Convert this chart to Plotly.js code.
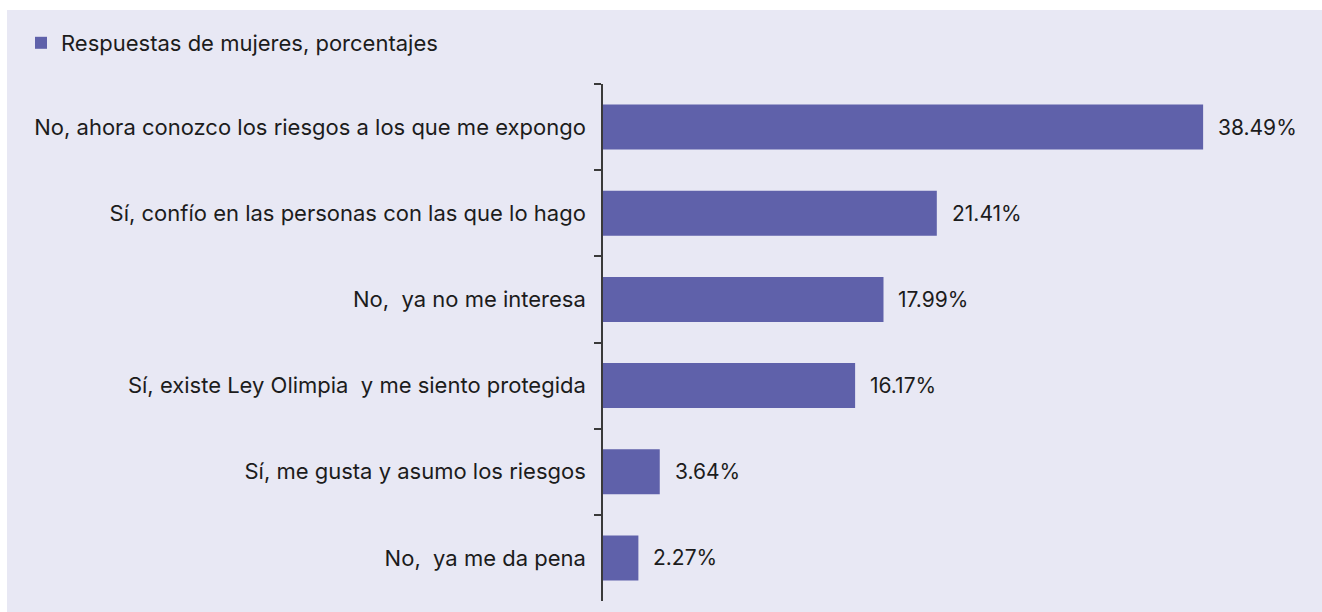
<!DOCTYPE html>
<html>
<head>
<meta charset="utf-8">
<script src="https://cdn.plot.ly/plotly-3.0.1.min.js"></script>
<style>
  html, body { margin: 0; padding: 0; background: #ffffff; }
  #chart { position: absolute; left: 7px; top: 10px; width: 1315px; height: 602px; }
</style>
</head>
<body>
<div id="chart"></div>
<script>
const categories = [
  "No, ahora conozco los riesgos a los que me expongo",
  "Sí, confío en las personas con las que lo hago",
  "No,  ya no me interesa",
  "Sí, existe Ley Olimpia  y me siento protegida",
  "Sí, me gusta y asumo los riesgos",
  "No,  ya me da pena"
];
const values = [38.49, 21.41, 17.99, 16.17, 3.64, 2.27];
const valueLabels = ["38.49%", "21.41%", "17.99%", "16.17%", "3.64%", "2.27%"];
const seriesName = "Respuestas de mujeres, porcentajes";

const BAR = "#5f61aa";
const BG = "#e8e8f4";
const TXT = "#1c1c1c";
const FONT = "Inter, Roboto, 'Noto Sans', sans-serif";
const FS = 22;
const FS_VAL = 21;

const trace = {
  type: "bar",
  orientation: "h",
  name: seriesName,
  x: values,
  y: categories,
  marker: { color: BAR },
  hoverinfo: "x+y",
  showlegend: true
};

const annotations = values.map((v, i) => ({
  x: v, y: categories[i], xref: "x", yref: "y",
  text: valueLabels[i], showarrow: false,
  xanchor: "left", yanchor: "middle", xshift: 13,
  font: { family: FONT, size: FS_VAL, color: TXT }
}));

const layout = {
  width: 1315, height: 602,
  paper_bgcolor: BG, plot_bgcolor: BG,
  margin: { l: 596, r: 64, t: 74, b: 11, pad: 0 },
  font: { family: FONT, size: FS, color: TXT },
  bargap: 0.477,
  showlegend: true,
  legend: {
    orientation: "h",
    xref: "container", yref: "container",
    x: 14 / 1315, y: 1 - 12 / 602,
    xanchor: "left", yanchor: "top",
    bgcolor: "rgba(0,0,0,0)",
    font: { family: FONT, size: FS, color: TXT }
  },
  xaxis: {
    range: [0, 42.01],
    visible: false,
    showgrid: false, zeroline: false, fixedrange: true
  },
  yaxis: {
    type: "category",
    categoryorder: "array",
    categoryarray: categories,
    autorange: "reversed",
    showline: true, linecolor: "#3a3a3a", linewidth: 1.5,
    ticks: "outside", tickson: "boundaries", ticklen: 7,
    tickcolor: "#3a3a3a", tickwidth: 1.5,
    ticklabelstandoff: 11,
    showgrid: false, zeroline: false, fixedrange: true,
    tickfont: { family: FONT, size: FS, color: TXT }
  },
  annotations: annotations
};

Plotly.newPlot("chart", [trace], layout, { displayModeBar: false, responsive: false });
</script>
</body>
</html>
